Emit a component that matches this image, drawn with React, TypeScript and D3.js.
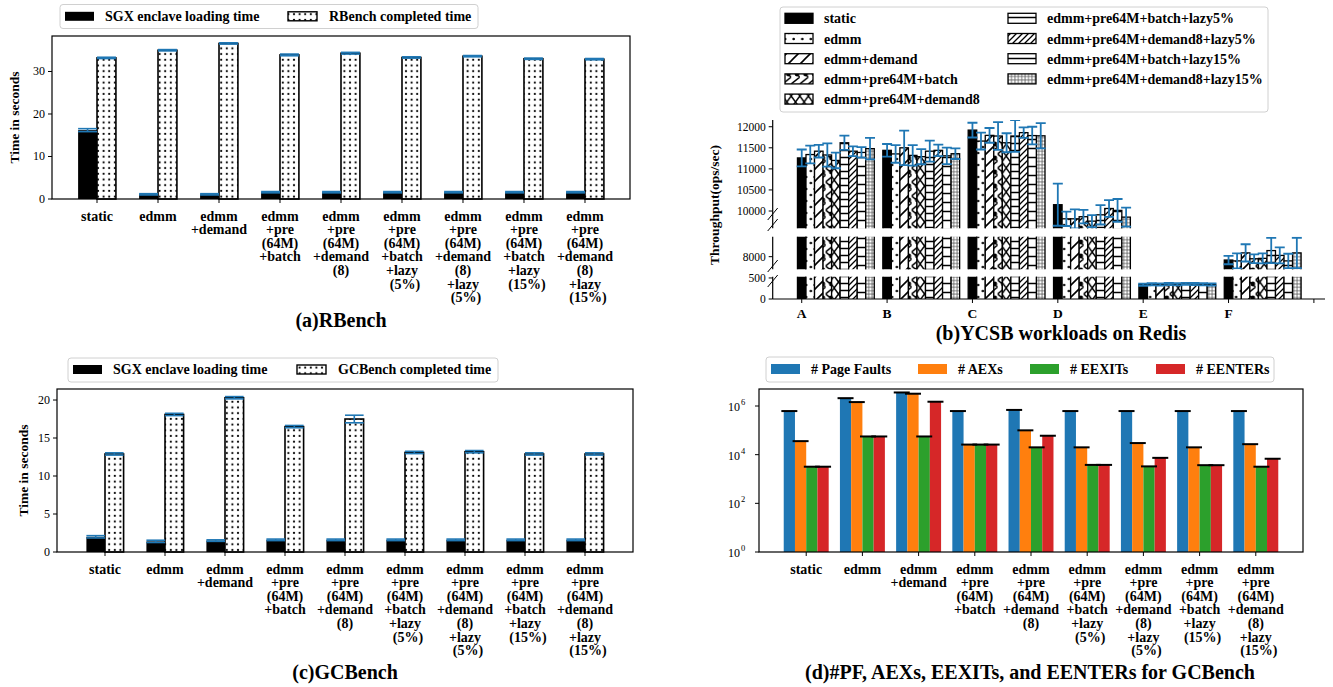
import React from 'react';
import * as d3 from 'd3';

const FONT = '"Liberation Serif", "Times New Roman", Times, serif';
const BLUE = '#1f77b4';

// x tick labels shared by (a), (c), (d)
const benchLabels = [
  ['static'],
  ['edmm'],
  ['edmm', '+demand'],
  ['edmm', '+pre', '(64M)', '+batch'],
  ['edmm', '+pre', '(64M)', '+demand', '(8)'],
  ['edmm', '+pre', '(64M)', '+batch', '+lazy', ' (5%)'],
  ['edmm', '+pre', '(64M)', '+demand', '(8)', '+lazy', ' (5%)'],
  ['edmm', '+pre', '(64M)', '+batch', '+lazy', ' (15%)'],
  ['edmm', '+pre', '(64M)', '+demand', '(8)', '+lazy', ' (15%)'],
];

// (a) RBench
const rbLoad = [16.2, 1.1, 1.1, 1.6, 1.6, 1.6, 1.6, 1.6, 1.6];
const rbLoadErr = [0.35, 0.15, 0.15, 0.15, 0.15, 0.15, 0.15, 0.15, 0.15];
const rbDone = [33.2, 35.0, 36.6, 33.9, 34.3, 33.3, 33.6, 33.0, 32.9];
const rbDoneErr = [0.15, 0.15, 0.15, 0.2, 0.2, 0.15, 0.15, 0.15, 0.15];
const rbTicks = [0, 10, 20, 30];

// (c) GCBench
const gcLoad = [2.0, 1.4, 1.5, 1.6, 1.6, 1.6, 1.6, 1.6, 1.6];
const gcLoadErr = [0.15, 0.15, 0.1, 0.1, 0.1, 0.1, 0.1, 0.1, 0.1];
const gcDone = [12.9, 18.1, 20.3, 16.5, 17.5, 13.1, 13.2, 12.9, 12.9];
const gcDoneErr = [0.15, 0.15, 0.15, 0.15, 0.5, 0.15, 0.15, 0.15, 0.15];
const gcTicks = [0, 5, 10, 15, 20];

// (d) SGX events for GCBench
const eventNames = ['# Page Faults', '# AEXs', '# EEXITs', '# EENTERs'];
const eventColors = ['#1f77b4', '#ff7f0e', '#2ca02c', '#d62728'];
const pageFaults = [6.2e5, 2.1e6, 3.6e6, 6.2e5, 6.9e5, 6.2e5, 6.2e5, 6.2e5, 6.2e5];
const aexs = [3.6e4, 1.45e6, 3.2e6, 2.6e4, 1.0e5, 2.0e4, 3.0e4, 2.0e4, 2.7e4];
const eexits = [3.2e3, 5.6e4, 5.6e4, 2.6e4, 2.0e4, 3.8e3, 3.3e3, 3.7e3, 3.2e3];
const eenters = [3.2e3, 5.6e4, 1.5e6, 2.6e4, 6.0e4, 3.8e3, 7.4e3, 3.7e3, 6.8e3];
const logTicks = [0, 2, 4, 6];

// (b) YCSB on Redis
const workloads = ['A', 'B', 'C', 'D', 'E', 'F'];
const configs = [
  'static', 'edmm', 'edmm+demand', 'edmm+pre64M+batch', 'edmm+pre64M+demand8',
  'edmm+pre64M+batch+lazy5%', 'edmm+pre64M+demand8+lazy5%',
  'edmm+pre64M+batch+lazy15%', 'edmm+pre64M+demand8+lazy15%',
];
const ycsbA = [11260, 11340, 11420, 11330, 11200, 11620, 11420, 11390, 11480];
const ycsbB = [11440, 11355, 11500, 11320, 11290, 11420, 11440, 11310, 11360];
const ycsbC = [11920, 11660, 11795, 11780, 11620, 11780, 11860, 11790, 11785];
const ycsbD = [10150, 9815, 9815, 9865, 9760, 9910, 10060, 10015, 9855];
const ycsbE = [340, 350, 345, 355, 350, 360, 355, 350, 345];
const ycsbF = [7920, 7900, 8090, 7950, 7960, 8145, 8030, 7900, 8090];
const ycsbAErr = [200, 210, 150, 275, 185, 170, 115, 125, 255];
const ycsbBErr = [150, 210, 410, 245, 180, 250, 135, 195, 125];
const ycsbCErr = [175, 200, 175, 330, 225, 375, 125, 210, 300];
const ycsbDErr = [500, 170, 225, 160, 145, 230, 200, 270, 225];
const ycsbEErr = [25, 25, 25, 25, 25, 25, 25, 25, 25];
const ycsbFErr = [100, 180, 205, 105, 120, 300, 190, 170, 360];
const ycsbTopLim = [9590, 12160];
const ycsbTopTicks = [10000, 10500, 11000, 11500, 12000];
const ycsbMidLim = [7700, 8475];
const ycsbMidTicks = [8000];
const ycsbLowLim = [0, 530];
const ycsbLowTicks = [0, 500];

const ycsbVals = [ycsbA, ycsbB, ycsbC, ycsbD, ycsbE, ycsbF];
const ycsbErrs = [ycsbAErr, ycsbBErr, ycsbCErr, ycsbDErr, ycsbEErr, ycsbFErr];
const configFills = [
  '#000', 'url(#pDot)', 'url(#pDiag)', 'url(#pBatch)', 'url(#pCross)',
  'url(#pHLine)', 'url(#pDiagDense)', 'url(#pHLine2)', 'url(#pSpeck)',
];

function XLabels({ x, y0, labels }) {
  return (
    <g fontFamily={FONT} fontWeight="bold" fontSize={14} textAnchor="middle">
      {labels.map((lines, i) => (
        <text key={i} x={x(i)} y={y0}>
          {lines.map((l, j) => (
            <tspan key={j} x={x(i) + (l.startsWith(' ') ? 3 : 0)} y={y0 + j * 13.6}>
              {l.trim()}
            </tspan>
          ))}
        </text>
      ))}
    </g>
  );
}

function TimePanel({ box, xDom, yMax, ticks, load, loadErr, done, doneErr, doneLabel, legend, title, yLabelX }) {
  const x = d3.scaleLinear().domain(xDom).range([box.x0, box.x1]);
  const y = d3.scaleLinear().domain([0, yMax]).range([box.y1, box.y0]);
  const w = x(0.31) - x(0);
  const err = (cx, v, e, key) => (
    <g key={key} stroke={BLUE} strokeWidth={1.6}>
      <line x1={cx} x2={cx} y1={y(v - e)} y2={y(v + e)} />
      <line x1={cx - w / 2} x2={cx + w / 2} y1={y(v + e)} y2={y(v + e)} />
      <line x1={cx - w / 2} x2={cx + w / 2} y1={y(v - e)} y2={y(v - e)} />
    </g>
  );
  return (
    <g>
      {load.map((v, i) => (
        <rect key={'l' + i} x={x(i) - w} y={y(v)} width={w} height={y(0) - y(v)} fill="#000" />
      ))}
      {done.map((v, i) => (
        <rect key={'d' + i} x={x(i)} y={y(v)} width={w} height={y(0) - y(v)}
          fill="url(#pDotA)" stroke="#000" strokeWidth={1.6} />
      ))}
      {load.map((v, i) => err(x(i) - w / 2, v, loadErr[i], 'el' + i))}
      {done.map((v, i) => err(x(i) + w / 2, v, doneErr[i], 'ed' + i))}
      <rect x={box.x0} y={box.y0} width={box.x1 - box.x0} height={box.y1 - box.y0}
        fill="none" stroke="#000" strokeWidth={1.2} />
      {ticks.map((t) => (
        <g key={t}>
          <line x1={box.x0 - 4} x2={box.x0} y1={y(t)} y2={y(t)} stroke="#000" />
          <text x={box.x0 - 7} y={y(t) + 4} textAnchor="end" fontFamily={FONT} fontSize={12}>{t}</text>
        </g>
      ))}
      {load.map((_, i) => (
        <line key={'t' + i} x1={x(i)} x2={x(i)} y1={box.y1} y2={box.y1 + 4} stroke="#000" />
      ))}
      <XLabels x={x} y0={box.y1 + 21.5} labels={benchLabels} />
      <text transform={`translate(${yLabelX},${(box.y0 + box.y1) / 2}) rotate(-90)`} textAnchor="middle"
        fontFamily={FONT} fontWeight="bold" fontSize={13.5}>Time in seconds</text>
      <g fontFamily={FONT} fontWeight="bold" fontSize={14}>
        <rect x={legend.x0} y={legend.y0} width={legend.x1 - legend.x0} height={legend.y1 - legend.y0}
          rx={3} fill="#fff" stroke="#d0d0d0" />
        <rect x={legend.x0 + 5} y={legend.cy - 4.5} width={29} height={9} fill="#000" />
        <text x={legend.x0 + 45} y={legend.cy + 4.5}>SGX enclave loading time</text>
        <rect x={legend.x2} y={legend.cy - 4.5} width={29} height={9} fill="url(#pDotA)" stroke="#000" strokeWidth={1.4} />
        <text x={legend.x2 + 41} y={legend.cy + 4.5}>{doneLabel}</text>
      </g>
      <text x={title.x} y={title.y} textAnchor="middle" fontFamily={FONT} fontWeight="bold" fontSize={20}>{title.text}</text>
    </g>
  );
}

function EventsPanel() {
  const box = { x0: 759, x1: 1303, y0: 389, y1: 552 };
  const x = d3.scaleLinear().domain([-0.84, 8.84]).range([box.x0, box.x1]);
  const y = d3.scaleLog().domain([1, 5e6]).range([box.y1, box.y0]);
  const series = [pageFaults, aexs, eexits, eenters];
  const w = x(0.2) - x(0);
  return (
    <g>
      {series.map((s, k) => s.map((v, i) => (
        <rect key={k + '-' + i} x={x(i + (k - 2) * 0.2)} y={y(v)} width={w} height={box.y1 - y(v)}
          fill={eventColors[k]} />
      )))}
      {series.map((s, k) => s.map((v, i) => {
        const cx = x(i + (k - 1.5) * 0.2);
        return <line key={'c' + k + '-' + i} x1={cx - 8} x2={cx + 8} y1={y(v)} y2={y(v)} stroke="#000" strokeWidth={2} />;
      }))}
      <rect x={box.x0} y={box.y0} width={box.x1 - box.x0} height={box.y1 - box.y0}
        fill="none" stroke="#000" strokeWidth={1.2} />
      {logTicks.map((p) => (
        <g key={p}>
          <line x1={box.x0 - 4} x2={box.x0} y1={y(10 ** p)} y2={y(10 ** p)} stroke="#000" />
          <text x={box.x0 - 19} y={y(10 ** p) + 5} textAnchor="end" fontFamily={FONT} fontSize={12}>10</text>
          <text x={box.x0 - 18} y={y(10 ** p) - 1} textAnchor="start" fontFamily={FONT} fontSize={8.5}>{p}</text>
        </g>
      ))}
      {benchLabels.map((_, i) => (
        <line key={'t' + i} x1={x(i)} x2={x(i)} y1={box.y1} y2={box.y1 + 4} stroke="#000" />
      ))}
      <XLabels x={x} y0={box.y1 + 21.5} labels={benchLabels} />
      <g fontFamily={FONT} fontWeight="bold" fontSize={14}>
        <rect x={766} y={357} width={508} height={25} rx={3} fill="#fff" stroke="#d0d0d0" />
        {eventNames.map((n, k) => {
          const px = [771, 918, 1030, 1156][k];
          return (
            <g key={n}>
              <rect x={px} y={364} width={29} height={10} fill={eventColors[k]} />
              <text x={px + 40} y={374}>{n}</text>
            </g>
          );
        })}
      </g>
      <text x={1030} y={678.5} textAnchor="middle" fontFamily={FONT} fontWeight="bold" fontSize={20}>
        (d)#PF, AEXs, EEXITs, and EENTERs for GCBench
      </text>
    </g>
  );
}

function YcsbPanel() {
  const xLeft = 772.7;
  const xRight = 1325;
  const x = d3.scaleLinear().domain([-0.34, 6.13]).range([xLeft, xRight]);
  const bw = x(0.1) - x(0);
  const segs = [
    { lim: ycsbTopLim, ticks: ycsbTopTicks, r: [228.3, 120] },
    { lim: ycsbMidLim, ticks: ycsbMidTicks, r: [269.3, 236.7] },
    { lim: ycsbLowLim, ticks: ycsbLowTicks, r: [299, 276.7] },
  ];
  return (
    <g>
      <defs>
        {segs.map((s, si) => (
          <clipPath key={si} id={'seg' + si}>
            <rect x={xLeft} y={s.r[1]} width={xRight - xLeft} height={s.r[0] - s.r[1]} />
          </clipPath>
        ))}
      </defs>
      {segs.map((s, si) => {
        const y = d3.scaleLinear().domain(s.lim).range(s.r);
        return (
          <g key={si}>
            <g clipPath={`url(#seg${si})`}>
              {ycsbVals.map((vals, wi) => vals.map((v, ci) => {
                if (v <= s.lim[0]) return null;
                const cx = x(wi + ci * 0.1);
                return (
                  <rect key={wi + '-' + ci} x={cx - bw / 2} y={y(v)} width={bw} height={s.r[0] + 2 - y(v)}
                    fill={configFills[ci]} stroke="#000" strokeWidth={1.3} />
                );
              }))}
              {ycsbVals.map((vals, wi) => vals.map((v, ci) => {
                const cx = x(wi + ci * 0.1);
                const e = ycsbErrs[wi][ci];
                return (
                  <g key={'e' + wi + '-' + ci} stroke={BLUE} strokeWidth={1.8}>
                    <line x1={cx} x2={cx} y1={y(v - e)} y2={y(v + e)} />
                    <line x1={cx - 5} x2={cx + 5} y1={y(v + e)} y2={y(v + e)} />
                    <line x1={cx - 5} x2={cx + 5} y1={y(v - e)} y2={y(v - e)} />
                  </g>
                );
              }))}
            </g>
            <line x1={xLeft} x2={xLeft} y1={s.r[1]} y2={s.r[0]} stroke="#000" strokeWidth={1.2} />
            {s.ticks.map((t) => (
              <g key={t}>
                <line x1={xLeft - 4} x2={xLeft} y1={y(t)} y2={y(t)} stroke="#000" />
                <text x={xLeft - 7} y={y(t) + 4} textAnchor="end" fontFamily={FONT} fontSize={11.5}>{t}</text>
              </g>
            ))}
          </g>
        );
      })}
      {[214, 225, 266, 281].map((by) => (
        <line key={by} x1={xLeft - 5} y1={by + 6} x2={xLeft + 5} y2={by - 6} stroke="#000" strokeWidth={1} />
      ))}
      <line x1={xLeft} x2={xRight} y1={299} y2={299} stroke="#000" strokeWidth={1.2} />
      {[0, 1, 2, 3, 4, 5, 6].map((i) => (
        <line key={i} x1={x(i)} x2={x(i)} y1={299} y2={303} stroke="#000" />
      ))}
      {workloads.map((wl, i) => (
        <text key={wl} x={x(i)} y={318} textAnchor="middle" fontFamily={FONT} fontWeight="bold" fontSize={13.5}>{wl}</text>
      ))}
      <text transform="translate(719,205) rotate(-90)" textAnchor="middle" fontFamily={FONT}
        fontWeight="bold" fontSize={13.5}>Throughput(ops/sec)</text>
      <g fontFamily={FONT} fontWeight="bold" fontSize={14}>
        <rect x={780} y={7} width={488} height={105} rx={3} fill="#fff" stroke="#d0d0d0" />
        {configs.map((c, ci) => {
          const col = ci < 5 ? 0 : 1;
          const row = ci < 5 ? ci : ci - 5;
          const px = col === 0 ? 785 : 1008;
          const cy = 18.3 + row * 20.2;
          return (
            <g key={c}>
              <rect x={px} y={cy - 5} width={28} height={10} fill={configFills[ci]} stroke="#000" strokeWidth={1.3} />
              <text x={px + 39} y={cy + 5}>{c}</text>
            </g>
          );
        })}
      </g>
      <text x={1061} y={340} textAnchor="middle" fontFamily={FONT} fontWeight="bold" fontSize={20}>
        (b)YCSB workloads on Redis
      </text>
    </g>
  );
}

function Patterns() {
  return (
    <defs>
      <pattern id="pDotA" patternUnits="userSpaceOnUse" width={5.6} height={5.7}>
        <rect width={5.6} height={5.7} fill="#fff" />
        <circle cx={2.8} cy={2.8} r={1.1} fill="#000" />
      </pattern>
      <pattern id="pDot" patternUnits="userSpaceOnUse" width={8.6} height={12}>
        <rect width={8.6} height={12} fill="#fff" />
        <circle cx={2.5} cy={3} r={1.3} fill="#000" />
        <circle cx={6.3} cy={9} r={1.3} fill="#000" />
      </pattern>
      <pattern id="pDiag" patternUnits="userSpaceOnUse" width={12} height={12}>
        <rect width={12} height={12} fill="#fff" />
        <path d="M0,12 L12,0 M-3,3 L3,-3 M9,15 L15,9" stroke="#000" strokeWidth={1.6} />
      </pattern>
      <pattern id="pBatch" patternUnits="userSpaceOnUse" width={8.6} height={14}>
        <rect width={8.6} height={14} fill="#fff" />
        <path d="M0,0 L8.6,7 L0,14" stroke="#000" strokeWidth={1.5} fill="none" />
        <circle cx={5.8} cy={4} r={2.4} fill="#000" />
      </pattern>
      <pattern id="pCross" patternUnits="userSpaceOnUse" width={8.6} height={12}>
        <rect width={8.6} height={12} fill="#fff" />
        <path d="M0,0 L8.6,12 M8.6,0 L0,12" stroke="#000" strokeWidth={1.5} />
      </pattern>
      <pattern id="pHLine" patternUnits="userSpaceOnUse" width={10} height={7}>
        <rect width={10} height={7} fill="#fff" />
        <path d="M0,3.5 H10" stroke="#000" strokeWidth={1.5} />
      </pattern>
      <pattern id="pDiagDense" patternUnits="userSpaceOnUse" width={6} height={6}>
        <rect width={6} height={6} fill="#fff" />
        <path d="M0,6 L6,0 M-1.5,1.5 L1.5,-1.5 M4.5,7.5 L7.5,4.5" stroke="#000" strokeWidth={1.3} />
      </pattern>
      <pattern id="pHLine2" patternUnits="userSpaceOnUse" width={10} height={9}>
        <rect width={10} height={9} fill="#fff" />
        <path d="M0,4.5 H10" stroke="#000" strokeWidth={1.5} />
      </pattern>
      <pattern id="pSpeck" patternUnits="userSpaceOnUse" width={3.4} height={3.4}>
        <rect width={3.4} height={3.4} fill="#fff" />
        <circle cx={1.7} cy={1.7} r={1} fill="none" stroke="#333" strokeWidth={0.7} />
      </pattern>
    </defs>
  );
}

export default function App() {
  return (
    <svg width={1333} height={687} style={{ position: 'absolute', left: 0, top: 0, background: '#fff' }}>
      <Patterns />
      <TimePanel
        box={{ x0: 52, x1: 630, y0: 36, y1: 199 }}
        xDom={[-0.738, 8.738]}
        yMax={38.35}
        ticks={rbTicks}
        load={rbLoad}
        loadErr={rbLoadErr}
        done={rbDone}
        doneErr={rbDoneErr}
        doneLabel="RBench completed time"
        legend={{ x0: 60, x1: 478, y0: 4.5, y1: 28.5, cy: 16.3, x2: 288 }}
        title={{ x: 341, y: 327, text: '(a)RBench' }}
        yLabelX={19}
      />
      <TimePanel
        box={{ x0: 57, x1: 633, y0: 389, y1: 552 }}
        xDom={[-0.8, 8.8]}
        yMax={21.45}
        ticks={gcTicks}
        load={gcLoad}
        loadErr={gcLoadErr}
        done={gcDone}
        doneErr={gcDoneErr}
        doneLabel="GCBench completed time"
        legend={{ x0: 68, x1: 498, y0: 358, y1: 382, cy: 369.5, x2: 297 }}
        title={{ x: 345, y: 678.5, text: '(c)GCBench' }}
        yLabelX={28}
      />
      <YcsbPanel />
      <EventsPanel />
    </svg>
  );
}
